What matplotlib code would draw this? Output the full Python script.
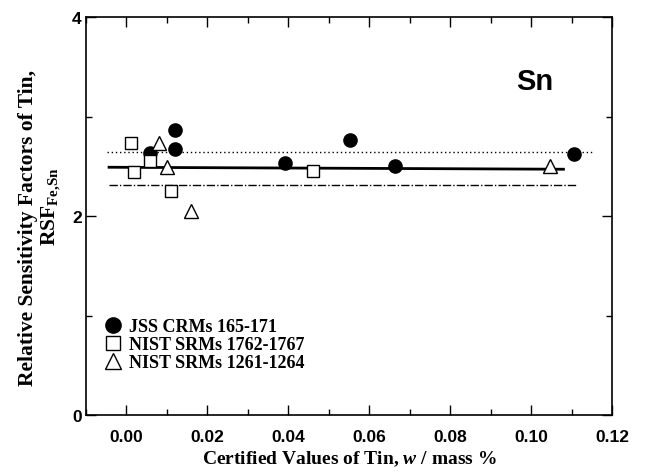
import matplotlib
matplotlib.use("Agg")
import matplotlib.pyplot as plt
from matplotlib.ticker import MultipleLocator
from matplotlib.lines import Line2D

plt.rcParams['mathtext.fontset'] = 'custom'
plt.rcParams['mathtext.bf'] = 'Liberation Serif:bold'
plt.rcParams['mathtext.rm'] = 'Liberation Serif:bold'
plt.rcParams['mathtext.it'] = 'Liberation Serif:bold:italic'

# JSS CRMs 165-171
jss_x = [0.0058, 0.012, 0.012, 0.0392, 0.0553, 0.0663, 0.1107]
jss_y = [2.63, 2.86, 2.67, 2.53, 2.76, 2.50, 2.62]
# NIST SRMs 1762-1767
nist1_x = [0.00105, 0.0019, 0.0058, 0.0110, 0.0462]
nist1_y = [2.73, 2.44, 2.55, 2.25, 2.455]
# NIST SRMs 1261-1264
nist2_x = [0.0081, 0.0101, 0.016, 0.1047]
nist2_y = [2.73, 2.49, 2.05, 2.505]

# reference lines
solid_x = [-0.0043, 0.108]
solid_y = [2.49, 2.47]
dot_x = [-0.0049, 0.115]
dot_y = [2.646, 2.646]
dashdot_x = [-0.0044, 0.111]
dashdot_y = [2.31, 2.31]

labels = ['JSS CRMs 165-171', 'NIST SRMs 1762-1767', 'NIST SRMs 1261-1264']
xt = [0.00, 0.02, 0.04, 0.06, 0.08, 0.10, 0.12]
yt = [0, 2, 4]

fig = plt.figure(figsize=(6.46, 4.77), dpi=100)
ax = fig.add_axes([86/646, 1-416/477, (612-86)/646, (416-18)/477])

ax.plot(solid_x, solid_y, '-', color='black', lw=2.0, zorder=2)
ax.plot(dot_x, dot_y, linestyle=(0, (1, 2)), color='black', lw=1.0, zorder=2)
ax.plot(dashdot_x, dashdot_y, linestyle=(0, (6, 1.5, 1, 1.5)), color='black', lw=1.0, zorder=2)

ax.plot(jss_x, jss_y, 'o', ms=9.5, mfc='black', mec='black', ls='none', zorder=3)
ax.plot(nist1_x, nist1_y, 's', ms=8, mfc='white', mec='black', mew=1.0, ls='none', zorder=3)
ax.plot(nist2_x, nist2_y, '^', ms=10, mfc='white', mec='black', mew=1.0, ls='none', zorder=3)

ax.set_xlim(-0.01, 0.12)
ax.set_ylim(0, 4)
ax.xaxis.set_minor_locator(MultipleLocator(0.01))
ax.yaxis.set_minor_locator(MultipleLocator(1))
ax.tick_params(which='both', direction='in', top=True, right=True, width=1.0)
ax.tick_params(which='major', length=7)
ax.tick_params(which='minor', length=4)
ax.tick_params(axis='x', which='major', pad=10)
ax.tick_params(axis='y', which='major', pad=3)
for s in ax.spines.values():
    s.set_linewidth(1.2)

ax.set_xticks(xt)
ax.set_xticklabels(['%.2f' % v for v in xt], fontfamily='Liberation Sans',
                   fontweight='bold', fontsize=12.5)
ax.set_yticks(yt)
ax.set_yticklabels([str(v) for v in yt], fontfamily='Liberation Sans',
                   fontweight='bold', fontsize=12.5)

fig.text(535/646, 1-82/477, 'Sn', ha='center', va='center',
         fontfamily='Liberation Sans', fontweight='bold', fontsize=21)

fig.text(349/646, 1-459/477, r'Certified Values of Tin, $\mathit{w}$ / mass %',
         ha='center', va='center', fontfamily='Liberation Serif',
         fontweight='bold', fontsize=14)
fig.text(28/646, 1-228/477, 'Relative Sensitivity Factors of Tin,',
         ha='center', va='center', rotation=90, fontfamily='Liberation Serif',
         fontweight='bold', fontsize=15.5)
fig.text(51/646, 1-207/477, r'$\mathbf{RSF}_{\mathbf{Fe{,}Sn}}$',
         ha='center', va='center', rotation=90, fontsize=15.5)

# legend
h1 = Line2D([], [], marker='o', ms=11, mfc='black', mec='black', ls='none')
h2 = Line2D([], [], marker='s', ms=10, mfc='white', mec='black', mew=1.0, ls='none')
h3 = Line2D([], [], marker='^', ms=11, mfc='white', mec='black', mew=1.0, ls='none')
leg = ax.legend([h1, h2, h3], labels, loc='lower left',
                bbox_to_anchor=(0.0, 0.065), frameon=False,
                prop={'family': 'Liberation Serif', 'weight': 'bold', 'size': 13},
                handlelength=1.0, handletextpad=0.4, labelspacing=0.05,
                borderaxespad=0.6)

fig.savefig('out.png', dpi=100)
